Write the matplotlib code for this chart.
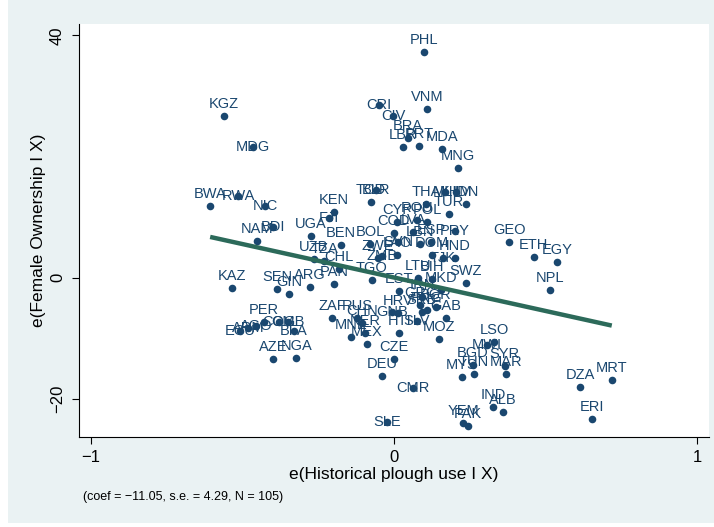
import matplotlib.pyplot as plt
from matplotlib.patches import Rectangle
import numpy as np

plt.rcParams['font.family'] = ['Liberation Sans', 'DejaVu Sans']

# residuals
countries = ['PHL', 'VNM', 'CRI', 'CIV', 'BRA', 'LBR', 'PRT', 'MDA', 'MNG',
             'KGZ', 'MDG', 'BWA', 'RWA', 'NIC', 'NAM', 'BDI', 'KEN', 'FJI', 'UGA',
             'BEN', 'UZB', 'TZA', 'CHL', 'ARG', 'PAN', 'KAZ', 'SEN', 'GIN',
             'ECU', 'ARM', 'AGO', 'PER', 'COG', 'GMB', 'BFA', 'AZE', 'NGA',
             'ZAF', 'RUS', 'CHN', 'MNE', 'NER', 'MEX',
             'GNB', 'HRV', 'SLV', 'HTI', 'MOZ', 'CZE', 'DEU', 'CMR', 'SLE',
             'LSO', 'MWI', 'BGD', 'SYR', 'MAR', 'TUN', 'MYS', 'IND', 'ALB', 'YEM', 'PAK',
             'GEO', 'ETH', 'EGY', 'NPL', 'DZA', 'MRT', 'ERI',
             'TCD', 'BLR', 'MLI', 'KHM', 'IDN', 'TUR', 'THA', 'ROU', 'POL', 'LVA',
             'CYP', 'ESP', 'PRY', 'COD', 'SVN', 'LBN', 'BOL',
             'ZMB', 'ZWE', 'LAO', 'HND', 'TJK', 'DOM', 'LTU', 'BIH', 'SWZ', 'MKD',
             'EST', 'TGO',
             'BGR', 'GRC', 'IRN', 'SRB', 'PNG', 'GAB']
plough = [0.099, 0.109, -0.050, -0.003, 0.046, 0.030, 0.083, 0.158, 0.211,
          -0.561, -0.465, -0.607, -0.515, -0.426, -0.452, -0.399, -0.198, -0.215, -0.274,
          -0.175, -0.264, -0.231, -0.182, -0.277, -0.198, -0.535, -0.386, -0.347,
          -0.508, -0.482, -0.455, -0.429, -0.380, -0.350, -0.330, -0.399, -0.323,
          -0.205, -0.122, -0.106, -0.142, -0.096, -0.089,
          -0.007, 0.013, 0.076, 0.017, 0.149, 0.000, -0.040, 0.063, -0.023,
          0.330, 0.307, 0.261, 0.366, 0.370, 0.264, 0.224, 0.327, 0.360, 0.228, 0.244,
          0.380, 0.462, 0.538, 0.515, 0.614, 0.719, 0.653,
          -0.076, -0.059, 0.168, 0.205, 0.238, 0.182, 0.106, 0.076, 0.109, 0.063,
          0.010, 0.122, 0.201, -0.001, 0.013, 0.086, -0.079,
          -0.040, -0.053, 0.010, 0.201, 0.162, 0.125, 0.079, 0.125, 0.238, 0.155,
          0.017, -0.073,
          0.139, 0.086, 0.092, 0.092, 0.109, 0.172]
ownership = [37.27, 27.85, 28.51, 26.69, 23.06, 21.57, 21.74, 21.24, 18.10,
             26.69, 21.57, 11.82, 13.47, 11.82, 6.03, 8.35, 10.83, 9.83, 6.86,
             5.37, 3.06, 2.73, 1.40, -1.57, -1.07, -1.74, -1.90, -2.73,
             -8.84, -8.35, -8.02, -7.36, -7.36, -7.36, -8.84, -13.47, -13.31,
             -6.69, -6.69, -7.52, -9.83, -9.17, -10.99,
             -5.70, -5.87, -7.19, -9.17, -10.17, -13.47, -16.28, -18.26, -23.88,
             -10.66, -11.16, -14.46, -14.63, -15.95, -15.95, -16.45, -21.40, -22.23, -24.05, -24.55,
             5.87, 3.39, 2.56, -2.07, -18.10, -16.94, -23.39,
             12.48, 14.46, 14.13, 14.13, 12.15, 10.50, 12.15, 9.50, 9.17, 7.52,
             9.17, 5.87, 7.69, 7.36, 5.87, 5.54, 5.54,
             3.55, 3.22, 3.72, 3.22, 3.22, 3.72, -0.08, -0.25, -0.91, -2.07,
             -2.23, -0.41,
             -4.88, -4.55, -3.22, -5.70, -5.37, -6.69]

coef = -11.05
se = 4.29

# labels that sit on their marker instead of above it
on_marker = {'CRI', 'CIV', 'MDG', 'RWA', 'NIC', 'BDI', 'FJI', 'ECU', 'ARM', 'AGO',
             'COG', 'GMB', 'BFA', 'GNB', 'SLV', 'CMR', 'SLE', 'MWI', 'BLR', 'MLI',
             'KHM', 'PRY', 'SVN', 'ZMB', 'TJK'}

navy = '#1a476f'
green = '#2c6a5a'
bg = '#eaf2f3'

fig = plt.figure(figsize=(7.14, 5.27), dpi=100)
fig.patch.set_facecolor('white')
fig.patches.append(Rectangle((8 / 714, 4 / 527), 1, 1, transform=fig.transFigure,
                             facecolor=bg, edgecolor='none', zorder=-1))

ax = fig.add_axes([79 / 714, 90 / 527, 630 / 714, 413 / 527])
ax.set_facecolor('white')

x = np.array(plough)
y = np.array(ownership)
ax.scatter(x, y, s=30, color=navy, linewidths=0, zorder=3)
for name, xi, yi in zip(countries, x, y):
    off = 0 if name in on_marker else 8.6
    ax.annotate(name, (xi, yi), xytext=(0, off), textcoords='offset points',
                ha='center', va='center', fontsize=10.5, color=navy, zorder=3)

xs = np.array([x.min(), x.max()])
ax.plot(xs, coef * xs, color=green, lw=3.2, solid_capstyle='butt', zorder=4)

ax.set_xlim(-1.04, 1.04)
ax.set_ylim(-26.36, 41.9)
ax.set_xticks([-1, 0, 1])
ax.set_yticks([-20, 0, 40])
for s in ['top', 'right']:
    ax.spines[s].set_visible(False)
for s in ['left', 'bottom']:
    ax.spines[s].set_linewidth(0.8)
ax.tick_params(direction='out', length=5, width=0.8, labelsize=12)
ax.tick_params(axis='y', pad=5)
ax.tick_params(axis='x', pad=4)
for lab in ax.get_yticklabels():
    lab.set_rotation(90)
    lab.set_va('center')

fig.text(394 / 714, 1 - 475 / 527, 'e(Historical plough use I X)', ha='center', va='center', fontsize=12.5)
fig.text(39 / 714, 1 - 230 / 527, 'e(Female Ownership I X)', ha='center', va='center',
         rotation=90, fontsize=12.5)
fig.text(83 / 714, 1 - 497 / 527, '(coef = \u221211.05, s.e. = 4.29, N = 105)',
         ha='left', va='center', fontsize=9)

fig.savefig('out.png', dpi=100)
